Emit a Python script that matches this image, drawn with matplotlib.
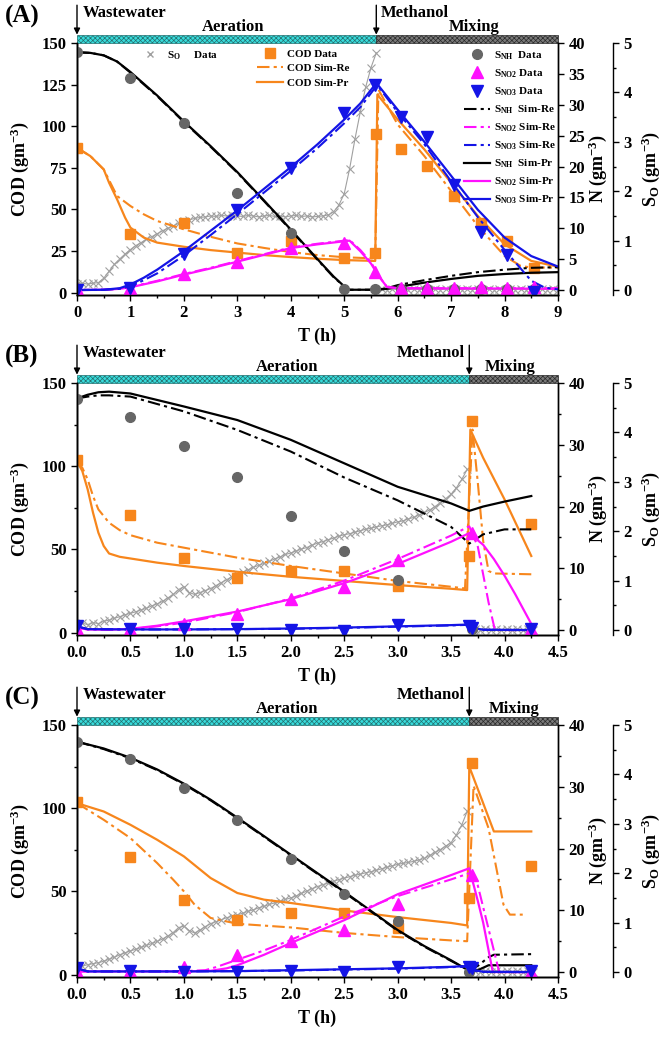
# Nitrogen / COD profiles of the three SBR cycles (A, B, C)
import numpy as np
import matplotlib
matplotlib.use('Agg')
import matplotlib.pyplot as plt
import matplotlib.transforms as mtransforms
from matplotlib.patches import Rectangle
from matplotlib.lines import Line2D
from matplotlib.ticker import MultipleLocator, FormatStrFormatter

plt.rcParams['font.family'] = ['Liberation Serif', 'DejaVu Serif']
plt.rcParams['font.weight'] = 'bold'
plt.rcParams['axes.labelweight'] = 'bold'
plt.rcParams['mathtext.fontset'] = 'custom'
plt.rcParams['mathtext.rm'] = 'Liberation Serif:bold'
plt.rcParams['mathtext.it'] = 'Liberation Serif:bold'
plt.rcParams['mathtext.bf'] = 'Liberation Serif:bold'
plt.rcParams['mathtext.default'] = 'rm'
plt.rcParams['hatch.linewidth'] = 0.5

ORANGE = '#F7861C'
MAGENTA = '#FF10FF'
BLUE = '#1414E6'
GREY = '#666666'
SO_GREY = '#a0a0a0'
DASHDOT = (0, (6, 2, 1.5, 2))

# ---------------- panel A (0-9 h) ----------------
A_t_meth = 5.6
A_t_end = 9.0
A_cod_t = [0, 1, 2, 3, 4, 5, 5.57, 5.6, 6.06, 6.55, 7.05, 7.55, 8.05, 8.55]
A_cod = [87, 35, 42, 24, 31, 21, 24, 95, 86, 76, 58, 42, 31, 15]
A_n_t = [0, 1, 2, 3, 4, 5, 5.57, 6.06, 6.55, 7.05, 7.55, 8.05, 8.55]
A_nh = [38.5, 34.3, 27.0, 15.7, 9.3, 0.1, 0.1, 0.1, 0.1, 0.1, 0.1, 0.1, 0.1]
A_no2 = [0.2, 0.3, 2.6, 4.5, 6.8, 7.6, 3.0, 0.4, 0.4, 0.4, 0.5, 0.4, 0.5]
A_no3 = [0.0, 0.3, 5.8, 12.9, 19.7, 28.6, 33.2, 28.0, 24.8, 17.0, 9.4, 5.7, -0.3]

A_cod_pr_t = [0, 0.25, 0.5, 0.6, 0.75, 0.9, 1.0, 1.25, 1.5, 2.0, 2.5, 3.0, 3.5, 4.0, 4.5,
              5.0, 5.55, 5.58, 5.62, 6.0, 6.5, 7.0, 7.5, 8.0, 8.5, 9.0]
A_cod_pr = [87, 82, 74, 66, 56, 45, 39, 33, 30, 27.5, 25.5, 24, 22.5, 21.3, 20.3,
            19.5, 19.0, 19.0, 119, 104, 86, 66, 46, 29, 19, 15.5]
A_cod_re_t = [0, 0.25, 0.5, 0.75, 1.0, 1.25, 1.5, 2.0, 2.5, 3.0, 3.5, 4.0, 4.5, 5.0,
              5.55, 5.58, 5.64, 6.0, 6.5, 7.0, 7.5, 8.0, 8.3, 8.5, 9.0]
A_cod_re = [87, 82, 74, 58, 52, 47, 43, 38, 33.5, 29.5, 26.8, 24.3, 22.5, 21.2,
            20.5, 20.5, 122, 101, 82, 61, 40, 22, 16, 15, 15]
A_nh_t = [0, 0.25, 0.5, 0.75, 1.0, 1.5, 2.0, 2.5, 3.0, 3.5, 4.0, 4.5, 4.8, 5.0, 5.1,
          5.6, 5.8, 6.0, 6.5, 7.0, 7.5, 8.0, 8.5, 9.0]
A_nh_pr = [38.5, 38.4, 38.0, 37.0, 35.3, 31.5, 27.3, 23.3, 19.1, 14.5, 9.8, 5.0, 2.2, 0.6, 0.05,
           0.05, 0.2, 0.5, 1.2, 1.8, 2.3, 2.6, 2.8, 2.9]
A_nh_re = [38.5, 38.4, 38.0, 37.0, 35.2, 31.4, 27.2, 23.2, 19.0, 14.4, 9.7, 4.9, 2.1, 0.6, 0.05,
           0.05, 0.3, 0.8, 1.6, 2.3, 2.9, 3.3, 3.6, 3.7]
A_no2_t = [0, 0.5, 0.8, 1.0, 1.5, 2.0, 2.5, 3.0, 3.5, 4.0, 4.5, 5.0, 5.1, 5.3, 5.5, 5.65,
           5.8, 6.0, 7.0, 8.0, 9.0]
A_no2_pr = [0.0, 0.05, 0.2, 0.45, 1.4, 2.5, 3.5, 4.6, 5.7, 6.8, 7.4, 7.9, 8.0, 6.3, 4.3, 2.2,
            0.5, 0.3, 0.25, 0.25, 0.2]
A_no2_re = [0.0, 0.05, 0.2, 0.5, 1.5, 2.6, 3.6, 4.7, 5.8, 6.9, 7.5, 8.0, 8.1, 6.5, 4.5, 2.3,
            0.5, 0.3, 0.3, 0.3, 0.3]
A_no3_pr_t = [0, 0.5, 0.8, 1.0, 1.25, 1.5, 2.0, 2.5, 3.0, 3.5, 4.0, 4.5, 5.0, 5.3, 5.6, 5.65,
              6.0, 6.5, 7.0, 7.5, 8.0, 8.5, 9.0]
A_no3_pr = [0.0, 0.05, 0.3, 0.9, 2.0, 3.3, 6.3, 9.6, 12.9, 16.4, 19.9, 23.6, 27.6, 30.2, 33.5, 33.0,
            29.2, 24.0, 18.5, 13.0, 8.5, 5.5, 3.8]
A_no3_re_t = [0, 0.5, 0.8, 1.0, 1.25, 1.5, 2.0, 2.5, 3.0, 3.5, 4.0, 4.5, 5.0, 5.3, 5.6, 5.65,
              6.0, 6.5, 7.0, 7.5, 8.0, 8.5, 8.75, 9.0]
A_no3_re = [0.0, 0.05, 0.2, 0.6, 1.6, 2.7, 5.6, 8.9, 12.3, 15.8, 19.3, 23.0, 27.0, 29.6, 33.0, 32.8,
            28.8, 23.6, 17.6, 11.8, 6.5, 1.5, 0.4, 0.1]
# DO probe, every 0.1 h
A_so_aer = [0.13, 0.14, 0.12, 0.14, 0.15, 0.24, 0.38, 0.52, 0.63, 0.73,
            0.82, 0.90, 0.96, 1.03, 1.08, 1.14, 1.20, 1.25, 1.30, 1.35,
            1.39, 1.42, 1.45, 1.47, 1.48, 1.50, 1.49, 1.51, 1.50, 1.52,
            1.50, 1.49, 1.51, 1.50, 1.48, 1.50, 1.51, 1.49, 1.50, 1.48,
            1.50, 1.51, 1.49, 1.50, 1.48, 1.49, 1.50, 1.52, 1.58, 1.72,
            1.95, 2.45, 3.05, 3.60, 4.10, 4.50, 4.80]
A_so_mix = [0.02, 0.01, 0.02, 0.01, 0.02, 0.01, 0.02, 0.01, 0.02, 0.01,
            0.02, 0.01, 0.02, 0.01, 0.02, 0.01, 0.02, 0.01, 0.02, 0.01,
            0.02, 0.01, 0.02, 0.01, 0.02, 0.01, 0.02, 0.01, 0.02, 0.01,
            0.02, 0.01, 0.02, 0.01]

# ---------------- panel B (0-4.25 h) ----------------
B_t_meth = 3.67
B_t_end = 4.5
B_cod_t = [0, 0.5, 1.0, 1.5, 2.0, 2.5, 3.0, 3.67, 3.7, 4.25]
B_cod = [103.5, 70.5, 45, 33, 37, 37, 28, 46, 127, 65]
B_nh_t = [0, 0.5, 1.0, 1.5, 2.0, 2.5, 3.0, 3.7]
B_nh = [37.4, 34.5, 29.8, 24.8, 18.4, 12.8, 8.1, 0.1]
B_no2_t = [0, 0.5, 1.0, 1.5, 2.0, 2.5, 3.0, 3.7, 4.25]
B_no2 = [0.1, 0.1, 1.0, 2.6, 5.1, 6.9, 11.3, 15.7, 0.1]
B_no3_t = [0, 0.5, 1.0, 1.5, 2.0, 2.5, 3.0, 3.67, 3.7, 4.25]
B_no3 = [0.7, 0.1, 0.1, 0.1, 0.0, -0.1, 0.9, 0.7, 0.3, 0.1]

B_cod_pr_t = [0, 0.05, 0.1, 0.15, 0.2, 0.25, 0.3, 0.4, 0.5, 0.75, 1.0, 1.5, 2.0, 2.5, 3.0,
              3.5, 3.65, 3.68, 3.8, 4.0, 4.25]
B_cod_pr = [103, 97, 86, 72, 60, 52, 47.5, 45.5, 44.5, 42, 40, 36.5, 33.5, 31, 28.5,
            26.3, 25.5, 122, 105, 80, 46]
B_cod_re_t = [0, 0.05, 0.1, 0.15, 0.2, 0.3, 0.4, 0.5, 0.75, 1.0, 1.5, 2.0, 2.5, 3.0, 3.5,
              3.63, 3.7, 3.75, 3.8, 3.85, 3.9, 4.25]
B_cod_re = [103, 99, 92, 82, 74, 66, 61.5, 58.5, 54, 51, 45, 40, 35.5, 31, 27.5,
            26.5, 122, 90, 55, 37, 35.5, 35]
B_nh_sim_t = [0, 0.1, 0.2, 0.3, 0.5, 1.0, 1.5, 2.0, 2.5, 3.0, 3.5, 3.67, 3.8, 4.0, 4.25]
B_nh_pr = [37.5, 38.1, 38.5, 38.6, 38.3, 36.2, 34.0, 30.8, 27.0, 23.2, 20.5, 19.3, 20.0, 20.8, 21.7]
B_nh_re = [37.5, 37.8, 38.0, 38.0, 37.8, 35.4, 32.4, 28.9, 24.7, 21.0, 16.7, 14.0, 15.5, 16.3, 16.3]
B_no2_pr_t = [0, 0.1, 0.3, 0.5, 0.75, 1.0, 1.5, 2.0, 2.5, 3.0, 3.5, 3.67, 3.8, 3.9, 4.0, 4.1, 4.25]
B_no2_pr = [0.4, 0.1, 0.05, 0.2, 0.7, 1.4, 3.0, 5.0, 7.6, 10.7, 14.3, 15.7, 13.8, 11.5, 8.8, 5.8, 1.0]
B_no2_re_t = [0, 0.1, 0.3, 0.5, 0.75, 1.0, 1.5, 2.0, 2.5, 3.0, 3.5, 3.67, 3.75, 3.8, 3.85, 3.91, 4.25]
B_no2_re = [0.4, 0.1, 0.05, 0.15, 0.6, 1.2, 2.9, 5.1, 8.0, 11.5, 15.3, 16.8, 13.5, 9.0, 4.5, 0.0, 0.0]
B_no3_sim_t = [0, 0.1, 0.5, 1.0, 1.5, 2.0, 2.5, 3.0, 3.5, 3.67, 3.72, 3.8, 4.25]
B_no3_pr = [0.6, 0.15, 0.1, 0.1, 0.15, 0.25, 0.4, 0.6, 0.8, 0.9, 0.3, 0.05, 0.0]
B_no3_re = [0.6, 0.15, 0.1, 0.1, 0.15, 0.2, 0.35, 0.55, 0.75, 0.85, 0.2, 0.03, 0.0]
# DO probe, every 0.05 h
B_so_aer = [0.12, 0.14, 0.11, 0.15, 0.13, 0.18, 0.20, 0.24, 0.27, 0.31,
            0.34, 0.37, 0.41, 0.44, 0.49, 0.53, 0.58, 0.65, 0.72, 0.82,
            0.88, 0.76, 0.72, 0.76, 0.80, 0.84, 0.90, 0.96, 1.02, 1.08,
            1.13, 1.17, 1.22, 1.27, 1.31, 1.35, 1.39, 1.44, 1.48, 1.53,
            1.56, 1.60, 1.64, 1.67, 1.72, 1.76, 1.79, 1.83, 1.86, 1.90,
            1.93, 1.95, 1.98, 2.01, 2.04, 2.06, 2.09, 2.11, 2.13, 2.16,
            2.19, 2.21, 2.25, 2.28, 2.33, 2.38, 2.43, 2.50, 2.58, 2.66,
            2.75, 2.88, 3.05, 3.25]
B_so_mix = [0.02, 0.01, 0.02, 0.01, 0.02, 0.01, 0.02, 0.01, 0.02, 0.01, 0.02, 0.01]

# ---------------- panel C (0-4.25 h) ----------------
C_t_meth = 3.67
C_t_end = 4.5
C_cod_t = [0, 0.5, 1.0, 1.5, 2.0, 2.5, 3.0, 3.67, 3.7, 4.25]
C_cod = [103.5, 70.5, 44.5, 32.5, 37, 37, 28, 46, 127, 65]
C_nh_t = [0, 0.5, 1.0, 1.5, 2.0, 2.5, 3.0, 3.67]
C_nh = [37.3, 34.5, 29.8, 24.7, 18.3, 12.6, 8.2, 0.0]
C_no2_t = [0, 0.5, 1.0, 1.5, 2.0, 2.5, 3.0, 3.7, 4.25]
C_no2 = [0.0, 0.2, 0.8, 2.7, 5.1, 6.8, 11.1, 15.7, 0.0]
C_no3_t = [0, 0.5, 1.0, 1.5, 2.0, 2.5, 3.0, 3.67, 3.7, 4.25]
C_no3 = [0.7, 0.2, 0.05, 0.05, 0.2, 0.0, 0.8, 0.9, 0.7, 0.15]

C_cod_pr_t = [0, 0.25, 0.5, 0.75, 1.0, 1.25, 1.5, 1.75, 2.0, 2.5, 3.0, 3.5, 3.65, 3.67, 3.9, 4.25]
C_cod_pr = [103, 98, 90, 81, 71, 58, 49, 45, 43, 38.5, 34.5, 31, 29.5, 125, 86, 86]
C_cod_re_t = [0, 0.25, 0.5, 0.75, 0.9, 1.0, 1.1, 1.25, 1.5, 2.0, 2.5, 3.0, 3.5, 3.65, 3.71,
              3.85, 3.99, 4.05, 4.17]
C_cod_re = [103, 93, 82, 67, 57, 50, 42, 34, 30.5, 28.3, 25, 22.5, 20.5, 20, 113.5,
            88, 42, 36, 36]
C_nh_sim_t = [0, 0.25, 0.5, 0.75, 1.0, 1.25, 1.5, 1.75, 2.0, 2.25, 2.5, 2.75, 3.0, 3.25, 3.5,
              3.67, 3.75, 3.85, 3.9, 4.25]
C_nh_pr = [37.3, 36.2, 34.7, 32.8, 30.5, 27.9, 25.0, 22.0, 19.0, 16.0, 13.0, 9.9, 6.8, 4.2, 1.9,
           0.2, 0.3, 1.1, 1.1, 1.1]
C_nh_re = [37.3, 36.1, 34.6, 32.7, 30.4, 27.8, 24.9, 21.9, 18.9, 15.9, 12.9, 9.8, 6.7, 4.1, 1.8,
           0.3, 1.0, 2.4, 2.8, 2.9]
C_no2_pr_t = [0, 0.5, 1.0, 1.25, 1.4, 1.5, 1.75, 2.0, 2.5, 3.0, 3.5, 3.67, 3.75, 3.8, 3.89, 4.25]
C_no2_pr = [0.1, 0.1, 0.1, 0.2, 0.6, 1.1, 2.8, 4.7, 8.4, 12.6, 15.7, 16.8, 11.5, 8.0, 0.0, 0.0]
C_no2_re_t = [0, 0.5, 1.0, 1.2, 1.3, 1.5, 1.75, 2.0, 2.5, 3.0, 3.5, 3.67, 3.75, 3.85, 3.95, 4.25]
C_no2_re = [0.1, 0.1, 0.15, 0.3, 0.8, 2.0, 3.5, 5.2, 9.0, 12.3, 15.0, 16.0, 14.0, 7.0, 0.0, 0.0]
C_no3_sim_t = [0, 0.1, 0.5, 1.0, 1.5, 2.0, 2.5, 3.0, 3.5, 3.67, 3.72, 3.8, 4.25]
C_no3_pr = [0.6, 0.1, 0.1, 0.1, 0.15, 0.3, 0.45, 0.6, 0.85, 1.0, 0.3, 0.05, 0.0]
C_no3_re = [0.6, 0.1, 0.1, 0.1, 0.15, 0.25, 0.4, 0.55, 0.8, 0.9, 0.2, 0.03, 0.0]
C_so_aer = [0.13, 0.12, 0.15, 0.17, 0.19, 0.22, 0.26, 0.30, 0.35, 0.39,
            0.43, 0.46, 0.50, 0.54, 0.58, 0.62, 0.67, 0.73, 0.80, 0.90,
            0.93, 0.84, 0.79, 0.85, 0.92, 0.98, 1.02, 1.06, 1.10, 1.13,
            1.16, 1.19, 1.23, 1.26, 1.30, 1.33, 1.37, 1.40, 1.43, 1.47,
            1.50, 1.54, 1.59, 1.64, 1.69, 1.73, 1.77, 1.80, 1.84, 1.87,
            1.90, 1.93, 1.96, 1.98, 2.01, 2.03, 2.06, 2.09, 2.12, 2.15,
            2.18, 2.20, 2.22, 2.24, 2.27, 2.30, 2.36, 2.42, 2.48, 2.55,
            2.62, 2.78, 2.98, 3.25]
C_so_mix = [0.02, 0.01, 0.02, 0.01, 0.02, 0.01, 0.02, 0.01, 0.02, 0.01, 0.02, 0.01]


fig = plt.figure(figsize=(6.72, 10.42), dpi=100)

AX_LEFT = 77 / 672
AX_W = 481 / 672
AX_H = 252 / 1042


def style_axis(ax):
    ax.spines['top'].set_visible(False)
    for s in ax.spines.values():
        s.set_linewidth(1.0)
    ax.tick_params(which='both', direction='out', width=1.0, labelsize=12)
    ax.tick_params(which='major', length=4)
    ax.tick_params(which='minor', length=2.5)


def draw_panel(top_px, tag, t_meth, t_end, so_step, d, text_pos, meth_left, legend=False):
    rect = [AX_LEFT, 1 - (top_px + 252) / 1042, AX_W, AX_H]
    ax = fig.add_axes(rect)
    axn = ax.twinx()
    axs = ax.twinx()
    axs.spines['right'].set_position(('axes', 1.114))
    # DO band at the bottom, COD in the middle, nitrogen on top
    axs.set_zorder(1)
    ax.set_zorder(2)
    axn.set_zorder(3)
    ax.patch.set_visible(False)
    axs.patch.set_visible(False)
    for a in (ax, axn, axs):
        style_axis(a)

    # dissolved oxygen
    t_aer = np.arange(len(d['so_aer'])) * so_step
    t_mix = t_meth + so_step + np.arange(len(d['so_mix'])) * so_step
    so_kw = dict(color=SO_GREY, marker='x', ms=6, mew=0.8, lw=0.8)
    axs.plot(t_aer, d['so_aer'], **so_kw)
    axs.plot(t_mix, d['so_mix'], **so_kw)

    # COD
    ax.plot(d['cod_re_t'], d['cod_re'], color=ORANGE, ls=DASHDOT, lw=1.5)
    ax.plot(d['cod_pr_t'], d['cod_pr'], color=ORANGE, lw=1.6)
    ax.plot(d['cod_t'], d['cod'], ls='none', marker='s', ms=6.5, color=ORANGE)

    # nitrogen species
    axn.plot(d['nh_t_sim'], d['nh_re'], color='k', ls=DASHDOT, lw=1.5)
    axn.plot(d['nh_t_sim'], d['nh_pr'], color='k', lw=1.6)
    axn.plot(d['no2_re_t'], d['no2_re'], color=MAGENTA, ls=DASHDOT, lw=1.5)
    axn.plot(d['no2_pr_t'], d['no2_pr'], color=MAGENTA, lw=1.6)
    axn.plot(d['no3_re_t'], d['no3_re'], color=BLUE, ls=DASHDOT, lw=1.5)
    axn.plot(d['no3_pr_t'], d['no3_pr'], color=BLUE, lw=1.6)
    axn.plot(d['nh_t'], d['nh'], ls='none', marker='o', ms=7, color=GREY)
    axn.plot(d['no2_t'], d['no2'], ls='none', marker='^', ms=8, color=MAGENTA)
    axn.plot(d['no3_t'], d['no3'], ls='none', marker='v', ms=8, color=BLUE)

    # scales
    ax.set_xlim(0, t_end)
    ax.set_ylim(-1.5, 150)
    axn.set_ylim(-0.8, 40)
    axs.set_ylim(-0.1, 5)
    if t_end > 5:
        ax.xaxis.set_major_locator(MultipleLocator(1))
        ax.xaxis.set_minor_locator(MultipleLocator(0.5))
        ax.yaxis.set_major_locator(MultipleLocator(25))
        axn.yaxis.set_major_locator(MultipleLocator(5))
    else:
        ax.xaxis.set_major_locator(MultipleLocator(0.5))
        ax.xaxis.set_minor_locator(MultipleLocator(0.25))
        ax.xaxis.set_major_formatter(FormatStrFormatter('%.1f'))
        ax.yaxis.set_major_locator(MultipleLocator(50))
        ax.yaxis.set_minor_locator(MultipleLocator(25))
        axn.yaxis.set_major_locator(MultipleLocator(10))
        axn.yaxis.set_minor_locator(MultipleLocator(5))
    axs.yaxis.set_major_locator(MultipleLocator(1))
    axs.yaxis.set_minor_locator(MultipleLocator(0.5))

    ax.set_xlabel('T (h)', fontsize=13)
    ax.xaxis.set_label_coords(0.5, -0.13)
    ax.set_ylabel('COD (gm$^{-3}$)', fontsize=13)
    ax.yaxis.set_label_coords(-0.095, 0.5)
    axn.set_ylabel('N (gm$^{-3}$)', fontsize=13)
    axn.yaxis.set_label_coords(1.06, 0.5)
    axs.set_ylabel('S$_{O}$ (gm$^{-3}$)', fontsize=13)
    axs.yaxis.set_label_coords(1.17, 0.5)

    # phase bars, arrows and phase names above the plot
    trans = mtransforms.blended_transform_factory(ax.transData, ax.transAxes)
    ax.add_patch(Rectangle((0, 1.0), t_meth, 0.033, transform=trans, clip_on=False,
                           facecolor='#38DCDC', edgecolor='#256f6f', hatch='x' * 7, lw=0.5))
    ax.add_patch(Rectangle((t_meth, 1.0), t_end - t_meth, 0.033, transform=trans, clip_on=False,
                           facecolor='#7a7a7a', edgecolor='#2a2a2a', hatch='x' * 7, lw=0.5))
    for tx in (0, t_meth):
        ax.annotate('', xy=(tx, 1.033), xytext=(tx, 1.15), xycoords=trans, textcoords=trans,
                    arrowprops=dict(arrowstyle='-|>', color='k', lw=1.0, mutation_scale=9,
                                    shrinkA=0, shrinkB=0))
    ax.text(text_pos[0], 1.12, 'Wastewater', transform=trans, ha='left', va='center', fontsize=12)
    ax.text(text_pos[1], 1.065, 'Aeration', transform=trans, ha='center', va='center', fontsize=12)
    if meth_left:
        ax.text(t_meth + text_pos[2], 1.12, 'Methanol', transform=trans, ha='left', va='center', fontsize=12)
    else:
        ax.text(t_meth - text_pos[2], 1.12, 'Methanol', transform=trans, ha='right', va='center', fontsize=12)
    ax.text(text_pos[3], 1.065, 'Mixing', transform=trans, ha='center', va='center', fontsize=12)

    fig.text(5 / 672, 1 - (top_px - 27) / 1042, tag, ha='left', va='center', fontsize=18)

    if legend:
        leg_kw = dict(frameon=False, fontsize=8, handlelength=2.3, handletextpad=0.35,
                      borderaxespad=0, borderpad=0)
        h_so = Line2D([], [], ls='none', marker='x', color=SO_GREY, ms=5)
        leg1 = axn.legend([h_so], ['S$_{O}$     Data'], loc='upper left',
                          bbox_to_anchor=(0.125, 0.975), **leg_kw)
        axn.add_artist(leg1)
        h_cod = [Line2D([], [], ls='none', marker='s', ms=6.5, color=ORANGE),
                 Line2D([], [], color=ORANGE, ls=DASHDOT, lw=1.5),
                 Line2D([], [], color=ORANGE, lw=1.6)]
        leg2 = axn.legend(h_cod, ['COD Data', 'COD Sim-Re', 'COD Sim-Pr'], loc='upper left',
                          bbox_to_anchor=(0.375, 0.975), labelspacing=0.4, **leg_kw)
        axn.add_artist(leg2)
        h_n = [Line2D([], [], ls='none', marker='o', ms=7, color=GREY),
               Line2D([], [], ls='none', marker='^', ms=8, color=MAGENTA),
               Line2D([], [], ls='none', marker='v', ms=8, color=BLUE),
               Line2D([], [], color='k', ls=DASHDOT, lw=1.5),
               Line2D([], [], color=MAGENTA, ls=DASHDOT, lw=1.5),
               Line2D([], [], color=BLUE, ls=DASHDOT, lw=1.5),
               Line2D([], [], color='k', lw=1.6),
               Line2D([], [], color=MAGENTA, lw=1.6),
               Line2D([], [], color=BLUE, lw=1.6)]
        n_labels = ['S$_{NH}$  Data', 'S$_{NO2}$ Data', 'S$_{NO3}$ Data',
                    'S$_{NH}$  Sim-Re', 'S$_{NO2}$ Sim-Re', 'S$_{NO3}$ Sim-Re',
                    'S$_{NH}$  Sim-Pr', 'S$_{NO2}$ Sim-Pr', 'S$_{NO3}$ Sim-Pr']
        axn.legend(h_n, n_labels, loc='upper right', bbox_to_anchor=(0.995, 0.975),
                   labelspacing=0.5, **leg_kw)
    return ax


A = dict(cod_t=A_cod_t, cod=A_cod, cod_pr_t=A_cod_pr_t, cod_pr=A_cod_pr,
         cod_re_t=A_cod_re_t, cod_re=A_cod_re,
         nh_t=A_n_t, nh=A_nh, no2_t=A_n_t, no2=A_no2, no3_t=A_n_t, no3=A_no3,
         nh_t_sim=A_nh_t, nh_pr=A_nh_pr, nh_re=A_nh_re,
         no2_pr_t=A_no2_t, no2_pr=A_no2_pr, no2_re_t=A_no2_t, no2_re=A_no2_re,
         no3_pr_t=A_no3_pr_t, no3_pr=A_no3_pr, no3_re_t=A_no3_re_t, no3_re=A_no3_re,
         so_aer=A_so_aer, so_mix=A_so_mix)
B = dict(cod_t=B_cod_t, cod=B_cod, cod_pr_t=B_cod_pr_t, cod_pr=B_cod_pr,
         cod_re_t=B_cod_re_t, cod_re=B_cod_re,
         nh_t=B_nh_t, nh=B_nh, no2_t=B_no2_t, no2=B_no2, no3_t=B_no3_t, no3=B_no3,
         nh_t_sim=B_nh_sim_t, nh_pr=B_nh_pr, nh_re=B_nh_re,
         no2_pr_t=B_no2_pr_t, no2_pr=B_no2_pr, no2_re_t=B_no2_re_t, no2_re=B_no2_re,
         no3_pr_t=B_no3_sim_t, no3_pr=B_no3_pr, no3_re_t=B_no3_sim_t, no3_re=B_no3_re,
         so_aer=B_so_aer, so_mix=B_so_mix)
C = dict(cod_t=C_cod_t, cod=C_cod, cod_pr_t=C_cod_pr_t, cod_pr=C_cod_pr,
         cod_re_t=C_cod_re_t, cod_re=C_cod_re,
         nh_t=C_nh_t, nh=C_nh, no2_t=C_no2_t, no2=C_no2, no3_t=C_no3_t, no3=C_no3,
         nh_t_sim=C_nh_sim_t, nh_pr=C_nh_pr, nh_re=C_nh_re,
         no2_pr_t=C_no2_pr_t, no2_pr=C_no2_pr, no2_re_t=C_no2_re_t, no2_re=C_no2_re,
         no3_pr_t=C_no3_sim_t, no3_pr=C_no3_pr, no3_re_t=C_no3_sim_t, no3_re=C_no3_re,
         so_aer=C_so_aer, so_mix=C_so_mix)

draw_panel(43, '(A)', A_t_meth, A_t_end, 0.1, A, (0.1, 2.93, 0.08, 7.43), True, legend=True)
draw_panel(383, '(B)', B_t_meth, B_t_end, 0.05, B, (0.05, 1.97, 0.04, 4.05), False)
draw_panel(725, '(C)', C_t_meth, C_t_end, 0.05, C, (0.05, 1.97, 0.04, 4.09), False)

fig.savefig('out.png', dpi=100)
